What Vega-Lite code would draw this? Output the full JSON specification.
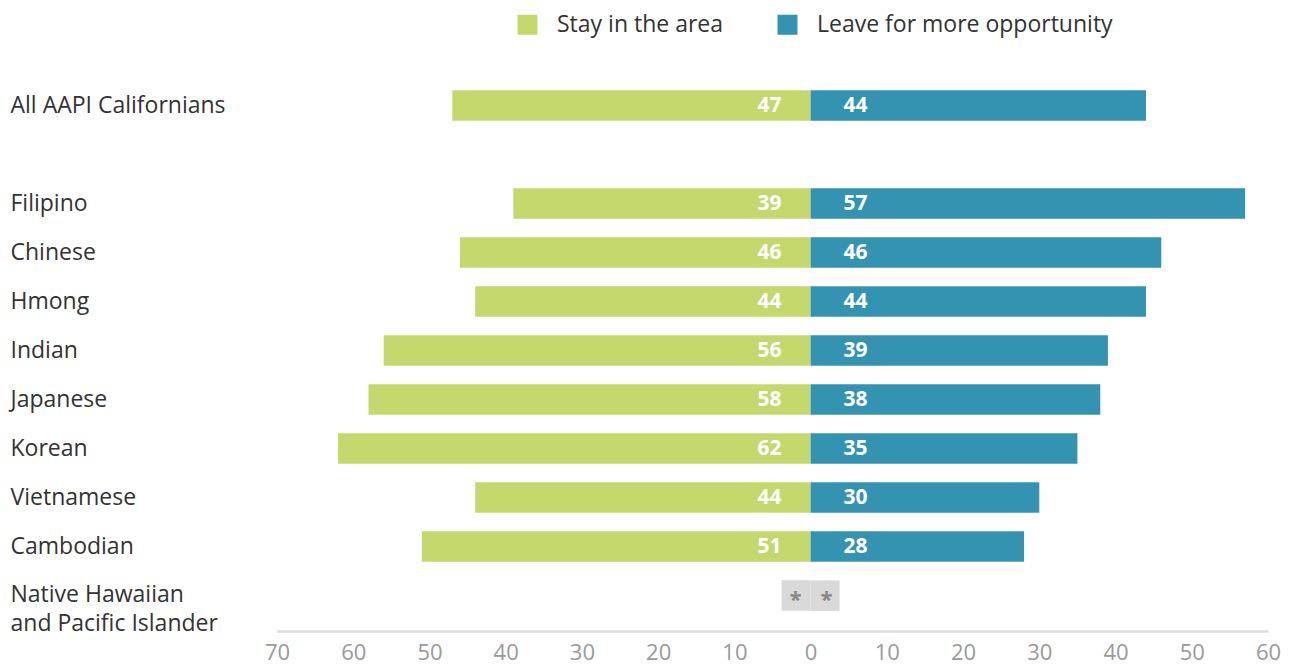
{
  "$schema": "https://vega.github.io/schema/vega-lite/v6.json",
  "width": 991,
  "height": 566,
  "autosize": {"type": "none"},
  "padding": {"left": 277, "top": 65, "right": 26, "bottom": 35},
  "background": "white",
  "config": {
    "font": "Open Sans",
    "view": {"stroke": null}
  },
  "data": {
    "values": [
      {"group": "All AAPI Californians", "series": "Stay in the area", "value": -47, "label": "47"},
      {"group": "All AAPI Californians", "series": "Leave for more opportunity", "value": 44, "label": "44"},
      {"group": "Filipino", "series": "Stay in the area", "value": -39, "label": "39"},
      {"group": "Filipino", "series": "Leave for more opportunity", "value": 57, "label": "57"},
      {"group": "Chinese", "series": "Stay in the area", "value": -46, "label": "46"},
      {"group": "Chinese", "series": "Leave for more opportunity", "value": 46, "label": "46"},
      {"group": "Hmong", "series": "Stay in the area", "value": -44, "label": "44"},
      {"group": "Hmong", "series": "Leave for more opportunity", "value": 44, "label": "44"},
      {"group": "Indian", "series": "Stay in the area", "value": -56, "label": "56"},
      {"group": "Indian", "series": "Leave for more opportunity", "value": 39, "label": "39"},
      {"group": "Japanese", "series": "Stay in the area", "value": -58, "label": "58"},
      {"group": "Japanese", "series": "Leave for more opportunity", "value": 38, "label": "38"},
      {"group": "Korean", "series": "Stay in the area", "value": -62, "label": "62"},
      {"group": "Korean", "series": "Leave for more opportunity", "value": 35, "label": "35"},
      {"group": "Vietnamese", "series": "Stay in the area", "value": -44, "label": "44"},
      {"group": "Vietnamese", "series": "Leave for more opportunity", "value": 30, "label": "30"},
      {"group": "Cambodian", "series": "Stay in the area", "value": -51, "label": "51"},
      {"group": "Cambodian", "series": "Leave for more opportunity", "value": 28, "label": "28"},
      {"group": "Native Hawaiian and Pacific Islander", "series": "Stay in the area", "value": -3.8, "label": "*"},
      {"group": "Native Hawaiian and Pacific Islander", "series": "Leave for more opportunity", "value": 3.8, "label": "*"}
    ]
  },
  "encoding": {
    "y": {
      "field": "group",
      "type": "nominal",
      "scale": {
        "domain": ["All AAPI Californians", " ", "Filipino", "Chinese", "Hmong", "Indian", "Japanese", "Korean", "Vietnamese", "Cambodian", "Native Hawaiian and Pacific Islander"],
        "paddingInner": 0.378,
        "paddingOuter": 0.4635,
        "align": 0.556
      },
      "axis": {
        "title": null,
        "orient": "left",
        "domain": false,
        "ticks": false,
        "tickSize": 0,
        "labelAlign": "left",
        "labelBaseline": "middle",
        "labelPadding": 267,
        "labelLimit": 400,
        "labelFontSize": 23,
        "labelColor": "#333333",
        "labelLineHeight": 29,
        "labelOffset": {"condition": {"test": "datum.value === 'Native Hawaiian and Pacific Islander'", "value": -1}, "value": 0},
        "labelExpr": "datum.value === 'Native Hawaiian and Pacific Islander' ? ['Native Hawaiian', 'and Pacific Islander'] : datum.label"
      }
    }
  },
  "layer": [
    {
      "mark": {"type": "bar"},
      "encoding": {
        "x": {
          "field": "value",
          "type": "quantitative",
          "stack": null,
          "scale": {"domain": [-70, 60], "nice": false, "zero": false},
          "axis": {
            "title": null,
            "grid": false,
            "ticks": false,
            "tickSize": 0,
            "values": [-70, -60, -50, -40, -30, -20, -10, 0, 10, 20, 30, 40, 50, 60],
            "labelExpr": "abs(datum.value)",
            "labelFontSize": 22,
            "labelColor": "#9a9a9a",
            "labelPadding": 11,
            "labelFlush": false,
            "domainColor": "#dddddd",
            "domainWidth": 2.5
          }
        },
        "color": {
          "condition": {"test": "datum.group === 'Native Hawaiian and Pacific Islander'", "value": "#d9d9d9"},
          "field": "series",
          "type": "nominal",
          "scale": {
            "domain": ["Stay in the area", "Leave for more opportunity"],
            "range": ["#c5d86d", "#3493b0"]
          },
          "legend": {
            "title": null,
            "orient": "none",
            "legendX": 239,
            "legendY": -52,
            "direction": "horizontal",
            "symbolType": "square",
            "symbolSize": 400,
            "symbolStrokeWidth": 0,
            "symbolOpacity": 1,
            "labelFontSize": 23,
            "labelLimit": 400,
            "labelColor": "#333333",
            "labelOffset": 18,
            "columnPadding": 52
          }
        }
      }
    },
    {
      "mark": {"type": "rule", "color": "#dddddd", "strokeWidth": 3},
      "encoding": {"x": {"datum": 0, "type": "quantitative"}}
    },
    {
      "transform": [
        {"filter": "datum.series === 'Stay in the area' && datum.group !== 'Native Hawaiian and Pacific Islander'"}
      ],
      "mark": {"type": "text", "align": "right", "baseline": "middle", "dx": -29, "fontSize": 21, "fontWeight": "bold", "color": "white"},
      "encoding": {"x": {"datum": 0, "type": "quantitative"}, "text": {"field": "label"}}
    },
    {
      "transform": [
        {"filter": "datum.series === 'Leave for more opportunity' && datum.group !== 'Native Hawaiian and Pacific Islander'"}
      ],
      "mark": {"type": "text", "align": "left", "baseline": "middle", "dx": 33, "fontSize": 21, "fontWeight": "bold", "color": "white"},
      "encoding": {"x": {"datum": 0, "type": "quantitative"}, "text": {"field": "label"}}
    },
    {
      "transform": [
        {"filter": "datum.series === 'Stay in the area' && datum.group === 'Native Hawaiian and Pacific Islander'"}
      ],
      "mark": {"type": "text", "align": "center", "baseline": "middle", "dx": -15, "dy": 4, "fontSize": 22, "fontWeight": "bold", "color": "#888888"},
      "encoding": {"x": {"datum": 0, "type": "quantitative"}, "text": {"field": "label"}}
    },
    {
      "transform": [
        {"filter": "datum.series === 'Leave for more opportunity' && datum.group === 'Native Hawaiian and Pacific Islander'"}
      ],
      "mark": {"type": "text", "align": "center", "baseline": "middle", "dx": 16, "dy": 4, "fontSize": 22, "fontWeight": "bold", "color": "#888888"},
      "encoding": {"x": {"datum": 0, "type": "quantitative"}, "text": {"field": "label"}}
    }
  ]
}
